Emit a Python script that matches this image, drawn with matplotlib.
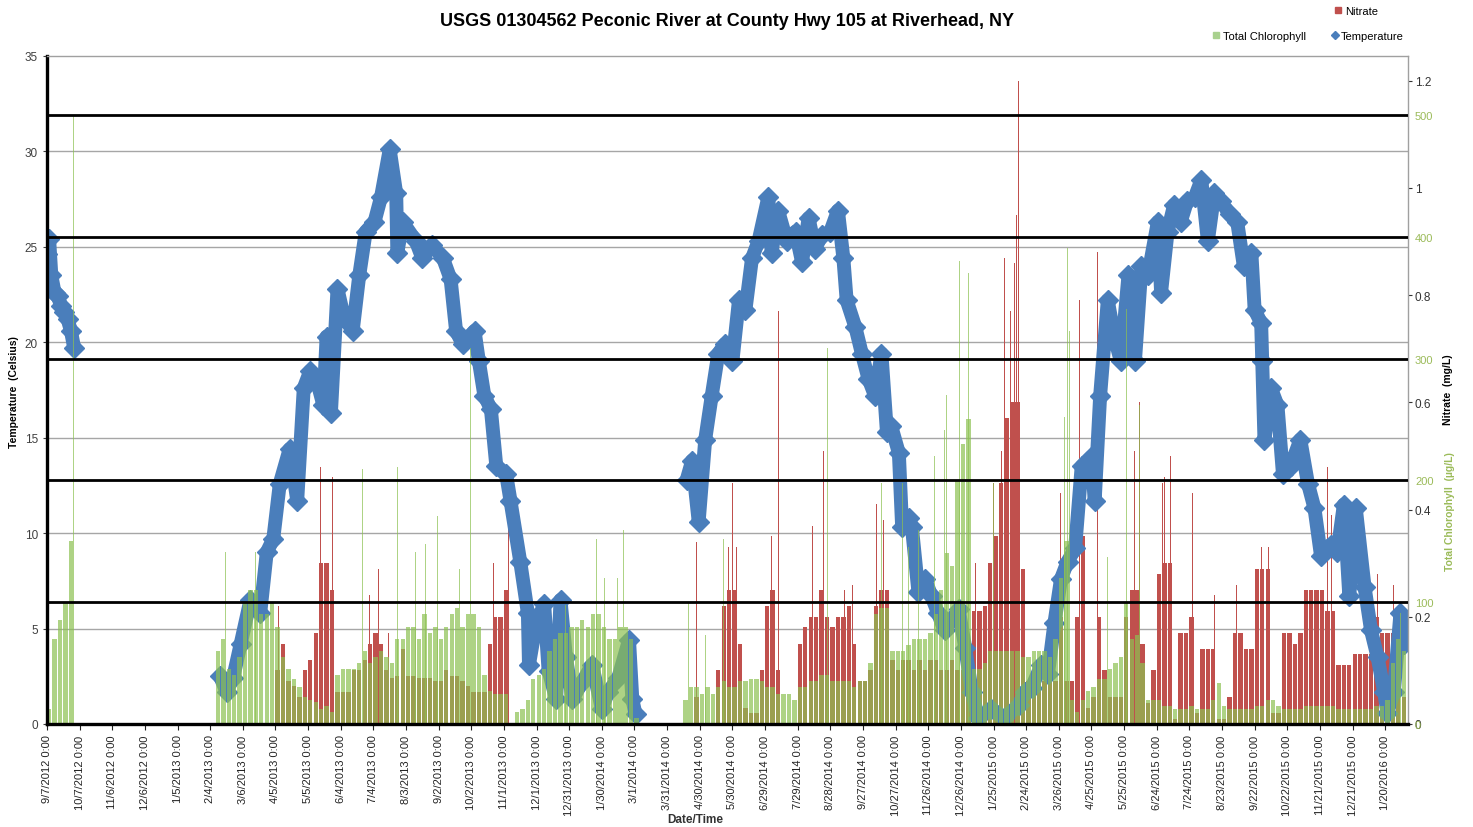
import numpy as np
import pandas as pd
import matplotlib
matplotlib.use("Agg")
import matplotlib.pyplot as plt
import matplotlib.dates as mdates
from matplotlib.lines import Line2D

plt.rcParams['font.family'] = ['Liberation Sans', 'DejaVu Sans']

title = "USGS 01304562 Peconic River at County Hwy 105 at Riverhead, NY"
start = pd.Timestamp("2012-09-07")

tick_labels = ["9/7/2012 0:00", "10/7/2012 0:00", "11/6/2012 0:00", "12/6/2012 0:00",
               "1/5/2013 0:00", "2/4/2013 0:00", "3/6/2013 0:00", "4/5/2013 0:00",
               "5/5/2013 0:00", "6/4/2013 0:00", "7/4/2013 0:00", "8/3/2013 0:00",
               "9/2/2013 0:00", "10/2/2013 0:00", "11/1/2013 0:00", "12/1/2013 0:00",
               "12/31/2013 0:00", "1/30/2014 0:00", "3/1/2014 0:00", "3/31/2014 0:00",
               "4/30/2014 0:00", "5/30/2014 0:00", "6/29/2014 0:00", "7/29/2014 0:00",
               "8/28/2014 0:00", "9/27/2014 0:00", "10/27/2014 0:00", "11/26/2014 0:00",
               "12/26/2014 0:00", "1/25/2015 0:00", "2/24/2015 0:00", "3/26/2015 0:00",
               "4/25/2015 0:00", "5/25/2015 0:00", "6/24/2015 0:00", "7/24/2015 0:00",
               "8/23/2015 0:00", "9/22/2015 0:00", "10/22/2015 0:00", "11/21/2015 0:00",
               "12/21/2015 0:00", "1/20/2016 0:00"]

# temperature (days after 9/7/2012, deg C); None = no data
temp_day = [0, 2, 4, 7, 10, 13, 16, 19, 22, 25, 90,
            159, 165, 171, 178, 187, 196, 202, 208, 214, 223, 230, 236, 242, 248, 254, 257,
            261, 267, 273, 281, 287, 293, 301, 307, 315, 321, 322, 327, 339, 345, 354, 364,
            371, 376, 382, 393, 397, 402, 408, 413, 422, 426, 435, 442, 443, 449, 457, 461,
            468, 472, 477, 483, 492, 501, 510, 516, 525, 535, 538, 541, 565,
            588, 593, 599, 605, 611, 617, 623, 630, 636, 642, 648, 654, 663, 666, 672, 680,
            688, 694, 700, 706, 712, 720, 727, 732, 735, 743, 749, 755, 761, 767, 772,
            776, 783, 786, 792, 795, 801, 807, 813, 819, 825, 838, 844, 850, 856, 868, 880,
            893, 899, 905, 914, 920, 926, 932, 938, 945, 951, 960, 963, 968, 975, 981, 987,
            994, 1000, 1006,
            1012, 1021, 1024, 1030, 1036, 1042, 1048, 1055, 1061, 1067, 1073, 1079, 1087,
            1094, 1100, 1107, 1110, 1116, 1117, 1119, 1125, 1131, 1136, 1143, 1152, 1159,
            1165, 1171, 1180, 1186, 1192, 1197, 1203, 1211, 1217, 1223, 1229, 1232, 1238,
            1244, 1247]
temp_c = [24.6, 25.4, 23.5, 22.6, 22.4, 21.9, 21.6, 21.2, 20.6, 19.7, None,
          2.5, 1.7, 2.4, 4.2, 6.5, 5.8, 9.0, 9.7, 12.6, 14.4, 11.7, 17.6, 18.5, 18.0, 16.7, 20.3,
          16.3, 22.8, 21.3, 20.6, 23.5, 25.8, 26.3, 27.6, 30.1, 27.8, 24.7, 26.3, 25.3, 24.4, 25.1, 24.4,
          23.3, 20.6, 19.9, 20.6, 19.0, 17.2, 16.5, 13.5, 13.1, 11.7, 8.5, 5.8, 3.1, 5.1, 6.3, 2.8,
          1.3, 6.5, 3.5, 1.3, 2.2, 3.1, 0.8, 1.7, 2.4, 4.4, 1.3, 0.5, None,
          12.8, 13.8, 10.6, 14.9, 17.2, 19.4, 19.9, 19.0, 22.2, 21.7, 24.4, 25.3, 27.6, 24.7, 26.9, 25.3,
          25.8, 24.2, 26.5, 24.9, 25.6, 25.8, 26.9, 24.4, 22.2, 20.8, 19.4, 18.1, 17.2, 19.4, 15.3,
          15.6, 14.2, 10.3, 10.8, 10.3, 6.9, 7.6, 6.7, 5.8, 4.9, 6.0, 4.0, 1.7, 0.3, 0.8, 0.3,
          1.0, 1.7, 1.9, 3.1, 2.6, 5.3, 7.6, 8.5, 9.2, 13.5, 14.0, 11.7, 17.2, 22.2, 20.3, 19.0,
          23.5, 19.0, 24.0,
          23.5, 26.3, 22.6, 25.8, 27.2, 26.3, 27.4, 27.6, 28.5, 25.3, 27.8, 27.4, 26.7,
          26.3, 24.0, 24.7, 21.7, 21.0, 19.0, 14.9, 17.6, 16.7, 13.1, 13.5, 14.9, 12.6,
          11.3, 8.8, 9.4, 9.0, 11.5, 6.7, 11.3, 7.2, 4.9, 3.5, 1.7, 0.6, 1.7,
          5.8, 4.2]

# 5-day bins starting 9/7/2012
nitrate = [0,
           0, 0, 0, 0, 0, 0, 0, 0, 0, 0, 0, 0, 0, 0, 0, 0, 0, 0, 0, 0,
           0, 0, 0, 0, 0, 0, 0, 0, 0, 0, 0, 0, 0, 0, 0, 0, 0, 0, 0, 0, 0,
           0.1, 0.15, 0.08, 0.07, 0.05, 0.1, 0.12, 0.17, 0.3, 0.3,
           0.25, 0.06, 0.06, 0.06, 0.1, 0.1, 0.12, 0.15, 0.17, 0.15,
           0.1, 0.085, 0.09, 0.14, 0.09, 0.09, 0.085, 0.085, 0.085, 0.08,
           0.08, 0.1, 0.09, 0.09, 0.08, 0.07, 0.06, 0.06, 0.06, 0.15,
           0.2, 0.2, 0.25,
           0, 0, 0, 0, 0, 0, 0, 0, 0, 0, 0, 0, 0, 0, 0, 0, 0,
           0, 0, 0, 0, 0, 0, 0, 0, 0, 0, 0, 0, 0, 0, 0, 0, 0,
           0.05, 0, 0, 0, 0.1, 0.22, 0.25, 0.25, 0.15, 0.03,
           0.02, 0.02, 0.1, 0.22, 0.25, 0.1, 0, 0, 0, 0.15,
           0.18, 0.2, 0.2, 0.25, 0.2, 0.18, 0.2, 0.2, 0.22, 0.15,
           0.08, 0.08, 0.1, 0.22, 0.25, 0.25, 0.12, 0.1, 0.12, 0.12,
           0.1, 0.12, 0.1, 0.12, 0.12, 0.1, 0.1, 0.12, 0.1, 0.1,
           0.1, 0.21, 0.21, 0.22, 0.3, 0.35, 0.45, 0.57, 0.6, 0.6,
           0.29, 0.08, 0.08, 0.08, 0.08, 0.08, 0.08, 0.2, 0.08, 0.08,
           0.2, 0.35, 0.03, 0.05, 0.2, 0.1, 0.05, 0.05, 0.05, 0.2,
           0.25, 0.25, 0.15, 0.04, 0.1, 0.28, 0.3, 0.3, 0.01, 0.17,
           0.17, 0.2, 0.02, 0.14, 0.14, 0.14, 0.01, 0.01, 0.05, 0.17,
           0.17, 0.14, 0.14, 0.29, 0.29, 0.29, 0.02, 0.02, 0.17, 0.17,
           0.15, 0.17, 0.25, 0.25, 0.25, 0.25, 0.21, 0.21, 0.11, 0.11,
           0.11, 0.13, 0.13, 0.13, 0.13, 0.2, 0.17, 0.17, 0.17, 0.1,
           0.05]
chlorophyll = [12, 70, 85, 100, 150,
               0, 0, 0, 0, 0, 0, 0, 0, 0, 0, 0, 0, 0, 0, 0, 0, 0, 0, 0, 0, 0, 0, 0, 0, 0, 0,
               60, 70, 45, 40, 55, 100, 110, 110, 90, 90,
               100, 80, 55, 45, 37, 30, 22, 20, 18, 12,
               15, 10, 40, 45, 45, 45, 50, 60, 50, 55,
               60, 55, 50, 70, 70, 80, 80, 70, 90, 75,
               80, 70, 80, 90, 95, 80, 90, 90, 80, 40,
               27, 25, 25, 25,
               0, 10, 12, 20, 37, 40, 45, 60, 70, 75,
               75, 80, 80, 85, 80, 90, 90, 80, 70, 70,
               80, 80, 70, 5,
               0, 0, 0, 0, 0, 0, 0, 0,
               20, 30, 30, 25, 30, 25, 30, 35, 30, 30,
               35, 35, 37, 37, 35, 30, 30, 25, 25, 25,
               20, 30, 30, 35, 35, 40, 40, 35, 35, 35,
               35, 30, 35, 35, 50, 90, 95, 95, 60, 60,
               60, 65, 70, 70, 70, 75, 90, 110, 140, 130,
               200, 230, 250, 45, 45, 50, 60, 60, 60, 60,
               60, 60, 55, 55, 60, 60, 60, 55, 70, 120,
               150, 20, 10, 20, 27, 30, 37, 37, 45, 50,
               55, 100, 70, 73, 50, 20, 20, 20, 15, 15,
               12, 12, 12, 15, 12, 12, 12, 20, 34, 15,
               12, 12, 12, 12, 12, 15, 15, 20, 20, 15,
               12, 12, 12, 12, 15, 15, 15, 15, 15, 15,
               12, 12, 12, 12, 12, 12, 12, 15, 15, 20,
               50, 70, 60]

# single-day spikes
nitrate_spike_day = [1, 213, 251, 262, 296, 305, 314, 410, 424, 597, 626, 630, 634, 666, 672,
                     704, 714, 733, 740, 762, 769, 853, 870, 877, 880, 886, 889, 891, 893,
                     932, 949, 966, 1000, 1004, 1025, 1027, 1033, 1053, 1073, 1093, 1116,
                     1123, 1177, 1181, 1223, 1238]
nitrate_spike = [0.39, 0.22, 0.48, 0.46, 0.24, 0.29, 0.17, 0.3, 0.38, 0.34, 0.33, 0.45, 0.33, 0.35, 0.77,
                 0.37, 0.51, 0.25, 0.26, 0.41, 0.38, 0.3, 0.45, 0.51, 0.87, 0.77, 0.86, 0.95, 1.2,
                 0.43, 0.79, 0.88, 0.51, 0.6, 0.45, 0.46, 0.5, 0.43, 0.24, 0.26, 0.33,
                 0.33, 0.48, 0.39, 0.28, 0.26]
chl_spike_day = [24, 164, 192, 290, 322, 339, 348, 359, 379, 389, 477, 505, 512, 524, 530, 590,
                 605, 622, 717, 767, 786, 792, 801, 816, 825, 827, 839, 847, 870, 935, 938,
                 940, 975, 992, 1004, 1244]
chl_spike = [500, 141, 141, 209, 211, 141, 148, 171, 127, 309, 98, 152, 120, 120, 159, 100,
             73, 152, 309, 198, 198, 145, 159, 220, 241, 270, 380, 370, 198, 252, 391,
             323, 137, 341, 262, 91]

RED = '#c0504d'
GREEN = '#8cc152'
GREEN_TXT = '#9bbb59'
BLUE = '#4a7ebb'
N_TOP = 1.246
C_TOP = 548.4


def day_num(days):
    return mdates.date2num(start + pd.to_timedelta(np.asarray(days, dtype=float), unit="D"))


bar_x = day_num(np.arange(len(nitrate)) * 5)
t_x = day_num(temp_day)
t_y = np.array([np.nan if v is None else v for v in temp_c])
tick_x = mdates.date2num(pd.to_datetime(tick_labels, format="%m/%d/%Y %H:%M"))

fig = plt.figure(figsize=(14.73, 8.28), dpi=100)
rect = [0.0319, 0.1244, 0.924, 0.8068]
ax_n = fig.add_axes(rect)
ax_t = fig.add_axes(rect, sharex=ax_n)
ax_c = fig.add_axes(rect, sharex=ax_n)
ax_n.set_zorder(1); ax_t.set_zorder(2); ax_c.set_zorder(3)
for a in (ax_n, ax_t, ax_c):
    a.patch.set_visible(False)
    for s in a.spines.values():
        s.set_visible(False)

# nitrate (bottom layer) + temperature gridlines
for t in range(5, 35, 5):
    ax_n.axhline(t * N_TOP / 35, color='#a6a6a6', lw=1.0, zorder=0)
ax_n.bar(bar_x, nitrate, width=4.0, align='edge', color=RED, linewidth=0)
ax_n.bar(day_num(nitrate_spike_day), nitrate_spike, width=0.9, color=RED, linewidth=0)
ax_n.set_ylim(0, N_TOP)
ax_n.yaxis.tick_right()
ax_n.set_yticks([0, 0.2, 0.4, 0.6, 0.8, 1.0, 1.2])
ax_n.set_yticklabels(['0', '0.2', '0.4', '0.6', '0.8', '1', '1.2'])
ax_n.tick_params(axis='y', labelsize=8.5, length=3, pad=2, colors='#333333')
ax_n.xaxis.set_visible(False)

# temperature
ax_t.plot(t_x, t_y, color=BLUE, lw=10, marker='D', ms=10, solid_joinstyle='round',
          solid_capstyle='round')
ax_t.set_ylim(0, 35)
ax_t.set_yticks(range(0, 36, 5))
ax_t.tick_params(axis='y', labelsize=8.5, length=3, colors='#404040')
ax_t.set_xlim(mdates.date2num(start), mdates.date2num(start) + 1251)
ax_t.set_xticks(tick_x)
ax_t.set_xticklabels(tick_labels, rotation=90, fontsize=8, color='#222222')
ax_t.tick_params(axis='x', length=4, colors='#222222')

# chlorophyll on top
ax_c.bar(bar_x, chlorophyll, width=4.0, align='edge', color=GREEN, alpha=0.7, linewidth=0)
ax_c.bar(day_num(chl_spike_day), chl_spike, width=0.9, color=GREEN, alpha=0.7, linewidth=0)
for v in range(100, 600, 100):
    ax_c.axhline(v, color='black', lw=2.0, zorder=5)
ax_c.set_ylim(0, C_TOP)
ax_c.yaxis.tick_right()
ax_c.set_yticks(range(0, 600, 100))
ax_c.tick_params(axis='y', labelsize=8, length=0, pad=5, colors=GREEN_TXT)
ax_c.xaxis.set_visible(False)
for side in ('left', 'bottom'):
    ax_c.spines[side].set_visible(True)
    ax_c.spines[side].set_color('black')
    ax_c.spines[side].set_linewidth(2.4)
for side in ('top', 'right'):
    ax_c.spines[side].set_visible(True)
    ax_c.spines[side].set_color('#a0a0a0')
    ax_c.spines[side].set_linewidth(1.0)

W, H = 1473, 828
fig.text(727 / W, 1 - 21 / H, title, fontsize=13, fontweight='bold', ha='center', va='center')
fig.text(14 / W, 1 - 392 / H, "Temperature  (Celsius)", rotation=90, fontsize=7.5,
         fontweight='bold', ha='center', va='center')
fig.text(1448 / W, 1 - 390 / H, "Nitrate  (mg/L)", rotation=90, fontsize=7.5,
         fontweight='bold', ha='center', va='center')
fig.text(1450 / W, 1 - 512 / H, "Total Chlorophyll  (µg/L)", rotation=90, fontsize=7.5,
         fontweight='bold', ha='center', va='center', color=GREEN_TXT)
fig.text(695 / W, 1 - 820 / H, "Date/Time", fontsize=8.5, fontweight='bold', ha='center',
         va='center', color='#333333')

h_nit = Line2D([], [], marker='s', color=RED, linestyle='none', markersize=5)
h_chl = Line2D([], [], marker='s', color='#a9d18e', linestyle='none', markersize=5)
h_tmp = Line2D([], [], marker='D', color=BLUE, linestyle='none', markersize=4)
fig.legend([h_nit], ["Nitrate"], loc='center left', bbox_to_anchor=(1328 / W, 1 - 12 / H),
           frameon=False, fontsize=8, handlelength=0.8, handletextpad=0.2, borderpad=0)
fig.legend([h_chl, h_tmp], ["Total Chlorophyll", "Temperature"], loc='center left',
           bbox_to_anchor=(1206 / W, 1 - 37 / H), ncol=2, frameon=False, fontsize=8,
           handlelength=0.8, handletextpad=0.2, columnspacing=2.2, borderpad=0)

fig.savefig("out.png", dpi=100)
